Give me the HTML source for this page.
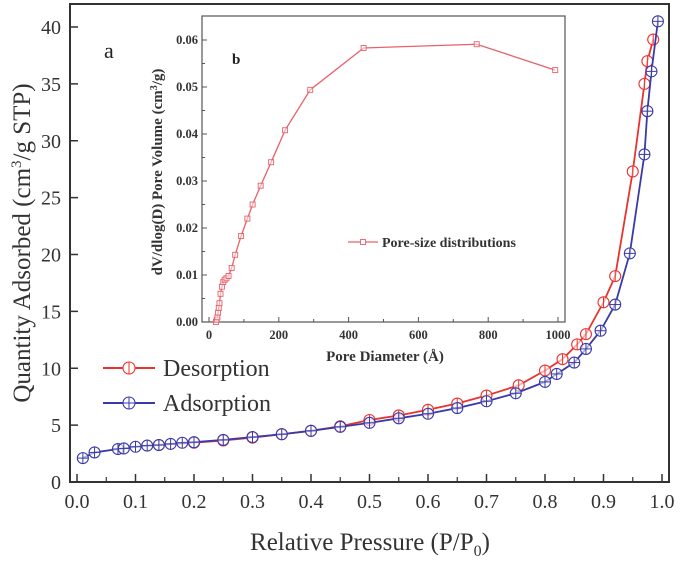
<!DOCTYPE html>
<html><head><meta charset="utf-8"><style>
html,body{margin:0;padding:0;background:#fff}
svg{display:block;font-family:"Liberation Serif",serif}
</style></head><body>
<svg id="chart" width="685" height="563" viewBox="0 0 685 563" xmlns="http://www.w3.org/2000/svg">
<g id="main"></g>
<g id="inset"></g>
</svg>
<script>
const adsX=[0.01,0.03,0.07,0.08,0.1,0.12,0.14,0.16,0.18,0.2,0.25,0.3,0.35,0.4,0.45,0.5,0.55,0.6,0.65,0.7,0.75,0.8,0.82,0.85,0.87,0.895,0.92,0.945,0.97,0.975,0.982,0.993];
const adsY=[2.1,2.6,2.9,2.95,3.1,3.2,3.25,3.35,3.45,3.5,3.7,3.95,4.2,4.5,4.85,5.2,5.6,6.0,6.5,7.1,7.8,8.8,9.5,10.5,11.7,13.3,15.6,20.1,28.8,32.6,36.1,40.5];
const desX=[0.14,0.2,0.25,0.3,0.35,0.4,0.45,0.5,0.55,0.6,0.65,0.7,0.755,0.8,0.83,0.855,0.87,0.9,0.92,0.95,0.97,0.975,0.985];
const desY=[3.25,3.45,3.65,3.9,4.2,4.5,4.9,5.45,5.85,6.35,6.9,7.6,8.5,9.8,10.8,12.1,13.0,15.8,18.1,27.3,35.0,37.0,38.9];
const mainXTicks=["0.0","0.1","0.2","0.3","0.4","0.5","0.6","0.7","0.8","0.9","1.0"];
const mainYTicks=["0","5","10","15","20","25","30","35","40"];
const poreX=[20,22,24,26,28,30,33,37,41,45,50,56,65,75,92,110,125,148,178,218,290,443,767,992];
const poreY=[0,0.0005,0.001,0.002,0.003,0.004,0.006,0.0075,0.0085,0.009,0.0093,0.0098,0.0115,0.0143,0.0183,0.022,0.025,0.029,0.034,0.0408,0.0494,0.0583,0.0591,0.0536];
const insetXTicks=["0","200","400","600","800","1000"];
const insetYTicks=["0.00","0.01","0.02","0.03","0.04","0.05","0.06"];

const NS="http://www.w3.org/2000/svg";
function mk(parent,tag,attrs,text){const e=document.createElementNS(NS,tag);for(const k in attrs)e.setAttribute(k,attrs[k]);if(text!==undefined)e.textContent=text;parent.appendChild(e);return e;}

const sx=v=>77+(662-77)*v;
const sy=v=>482-(482-27)*v/40;
const M=document.getElementById('main');
let f=mk(M,'rect',{x:70,y:4,width:599,height:478,fill:'none',stroke:'#333','stroke-width':2});


mainXTicks.forEach(t=>{const v=parseFloat(t),x=sx(v);
 let l=mk(M,'line',{x1:x,y1:482,x2:x,y2:474,stroke:'#333','stroke-width':1.5});
 
 if(v<1){let m=mk(M,'line',{x1:sx(v+0.05),y1:482,x2:sx(v+0.05),y2:477,stroke:'#333','stroke-width':1.2});}
 let tx=mk(M,'text',{x:x,y:508,'font-size':20,'text-anchor':'middle',fill:'#333'},t);
 });
mainYTicks.forEach(t=>{const v=parseFloat(t),y=sy(v);
 let l=mk(M,'line',{x1:70,y1:y,x2:78,y2:y,stroke:'#333','stroke-width':1.5});
 
 let tx=mk(M,'text',{x:61,y:y+7,'font-size':20,'text-anchor':'end',fill:'#333'},t);
 });
let xt=mk(M,'text',{x:370,y:550,'font-size':25,'text-anchor':'middle',fill:'#333'});
xt.innerHTML='Relative Pressure (P/P<tspan font-size="16" dy="6">0</tspan><tspan dy="-6">)</tspan>';

let yt=mk(M,'text',{x:0,y:0,'font-size':25,'text-anchor':'middle',fill:'#333',transform:'translate(30,243) rotate(-90)'});
yt.innerHTML='Quantity Adsorbed (cm<tspan font-size="15" dy="-9">3</tspan><tspan dy="9">/g STP)</tspan>';

let pa=mk(M,'text',{x:104,y:58,'font-size':22,fill:'#222'},'a');


function series(X,Y,color,name,cross){
 const g=mk(M,'g',{});
 
 const pts=X.map((x,i)=>sx(x)+','+sy(Y[i])).join(' ');
 let pl=mk(g,'polyline',{points:pts,fill:'none',stroke:color,'stroke-width':1.8});
 
 X.forEach((x,i)=>{const cx=sx(x),cy=sy(Y[i]);
  const c=mk(g,'g',{});
  
  mk(c,'circle',{cx:cx,cy:cy,r:5.5,fill:'#fff','fill-opacity':0.6,stroke:color,'stroke-width':1.1});
  mk(c,'line',{x1:cx,y1:cy-5.5,x2:cx,y2:cy+5.5,stroke:color,'stroke-width':1});
  if(cross)mk(c,'line',{x1:cx-5.5,y1:cy,x2:cx+5.5,y2:cy,stroke:color,'stroke-width':1});});
}
series(desX,desY,'#e8332e','desorption',false);
series(adsX,adsY,'#3a3aa8','adsorption',true);

function legend(y,color,label,cross,name){
 const g=mk(M,'g',{});
 
 mk(g,'line',{x1:103,y1:y,x2:155,y2:y,stroke:color,'stroke-width':2});
 mk(g,'circle',{cx:129,cy:y,r:6,fill:'#fff',stroke:color,'stroke-width':1.1});
 mk(g,'line',{x1:129,y1:y-6,x2:129,y2:y+6,stroke:color,'stroke-width':1});
 if(cross)mk(g,'line',{x1:123,y1:y,x2:135,y2:y,stroke:color,'stroke-width':1});
 mk(g,'text',{x:163,y:y+8,'font-size':24,fill:'#333'},label);
}
legend(368,'#e8332e','Desorption',false,'legend-desorption');
legend(403,'#3a3aa8','Adsorption',true,'legend-adsorption');

const I=document.getElementById('inset');
const ix=v=>209+(558-209)*v/1000;
const iy=v=>322-(322-40)*v/0.06;
let bg=mk(I,'rect',{x:202,y:16,width:363,height:306,fill:'#fff',stroke:'#555','stroke-width':1.2});

insetXTicks.forEach(t=>{const v=+t,x=ix(v);
 let l=mk(I,'line',{x1:x,y1:322,x2:x,y2:317,stroke:'#555'});
 if(v<1000){let m=mk(I,'line',{x1:ix(v+100),y1:322,x2:ix(v+100),y2:319,stroke:'#555'});}
 let tx=mk(I,'text',{x:x,y:339,'font-size':12.5,'font-weight':'bold','text-anchor':'middle',fill:'#333'},t);
 });
insetYTicks.forEach(t=>{const v=+t,y=iy(v);
 let l=mk(I,'line',{x1:202,y1:y,x2:207,y2:y,stroke:'#555'});
 if(v<0.06){let m=mk(I,'line',{x1:202,y1:iy(v+0.005),x2:205,y2:iy(v+0.005),stroke:'#555'});}
 let tx=mk(I,'text',{x:198,y:y+4,'font-size':12.5,'font-weight':'bold','text-anchor':'end',fill:'#333'},t);
 });
let ixt=mk(I,'text',{x:385,y:361,'font-size':15,'font-weight':'bold','text-anchor':'middle',fill:'#333'},'Pore Diameter (Å)');

let iyt=mk(I,'text',{x:0,y:0,'font-size':15,'font-weight':'bold','text-anchor':'middle',fill:'#333',transform:'translate(162,172) rotate(-90)'});
iyt.innerHTML='dV/dlog(D) Pore Volume (cm<tspan font-size="10" dy="-5">3</tspan><tspan dy="5">/g)</tspan>';

let pb=mk(I,'text',{x:232,y:64,'font-size':15,'font-weight':'bold',fill:'#222'},'b');

const pc='#e8606a';
let pl=mk(I,'polyline',{points:poreX.map((x,i)=>ix(x)+','+iy(poreY[i])).join(' '),fill:'none',stroke:pc,'stroke-width':1.3});

poreX.forEach((x,i)=>{let r=mk(I,'rect',{x:ix(x)-2.5,y:iy(poreY[i])-2.5,width:5,height:5,fill:'#fff','fill-opacity':0.5,stroke:pc,'stroke-width':0.9});
 });
const lg=mk(I,'g',{});

mk(lg,'line',{x1:348,y1:242,x2:378,y2:242,stroke:pc,'stroke-width':1.3});
mk(lg,'rect',{x:360.5,y:239.5,width:5,height:5,fill:'#fff',stroke:pc,'stroke-width':0.9});
mk(lg,'text',{x:382,y:247,'font-size':14,'font-weight':'bold',fill:'#333'},'Pore-size distributions');
</script>
</body></html>
